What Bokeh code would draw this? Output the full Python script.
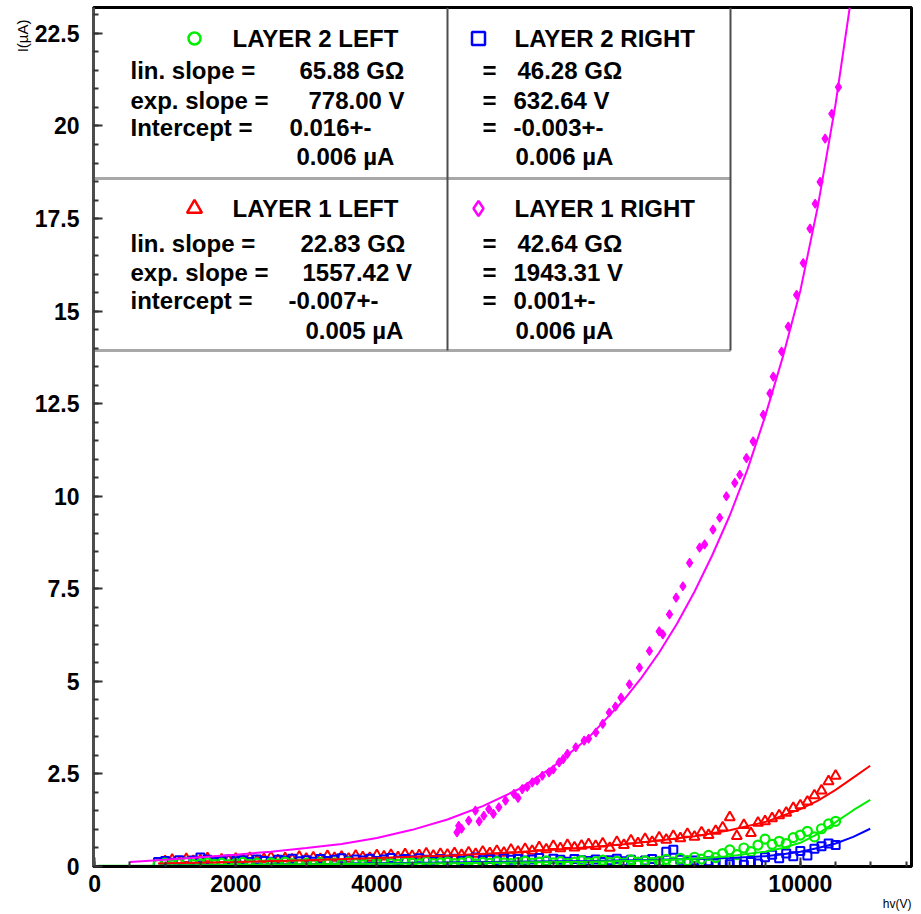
from bokeh.plotting import figure
from bokeh.models import FixedTicker, Label, PrintfTickFormatter, Range1d, Title
from bokeh.embed import file_html
from bokeh.resources import INLINE

# ---- measured leakage currents (uA) versus applied high voltage (V) ----

# LAYER 2 LEFT (green circles), 900 V .. 10500 V in 100 V steps
hv_l2l = list(range(900, 10600, 100))
cur_l2l = [0.06, 0.09, 0.04, 0.08, 0.11, 0.05, 0.07, 0.10, 0.06, 0.09, 0.05,
           0.08, 0.11, 0.06, 0.09, 0.04, 0.10, 0.07, 0.12, 0.08, 0.06,
           0.09, 0.05, 0.11, 0.07, 0.10, 0.06, 0.12, 0.08, 0.05, 0.10,
           0.07, 0.11, 0.08, 0.06, 0.12, 0.09, 0.07, 0.13, 0.08, 0.10,
           0.12, 0.08, 0.10, 0.14, 0.07, 0.11, 0.09, 0.13, 0.10, 0.08,
           0.11, 0.14, 0.09, 0.12, 0.15, 0.10, 0.13, 0.08, 0.12, 0.16,
           0.10, 0.13, 0.17, 0.11, 0.14, 0.09, 0.18, 0.12, 0.15, 0.11,
           0.14, 0.19, 0.12, 0.22, 0.16, 0.25, 0.20, 0.30, 0.24, 0.35,
           0.45, 0.32, 0.50, 0.40, 0.58, 0.74, 0.60, 0.68, 0.62, 0.78,
           0.85, 0.95, 0.80, 1.02, 1.15, 1.22]

# LAYER 2 RIGHT (blue squares), 900 V .. 10500 V in 100 V steps
hv_l2r = list(range(900, 10600, 100))
cur_l2r = [0.12, 0.15, 0.10, 0.17, 0.13, 0.16, 0.24, 0.18, 0.12, 0.15, 0.19,
           0.14, 0.17, 0.12, 0.19, 0.15, 0.13, 0.18, 0.16, 0.21, 0.14,
           0.17, 0.13, 0.20, 0.15, 0.18, 0.22, 0.14, 0.19, 0.16, 0.21,
           0.15, 0.19, 0.23, 0.16, 0.20, 0.17, 0.22, 0.18, 0.14, 0.20,
           0.18, 0.21, 0.15, 0.19, 0.24, 0.17, 0.20, 0.16, 0.22, 0.18,
           0.20, 0.16, 0.19, 0.23, 0.15, 0.21, 0.18, 0.13, 0.20, 0.17,
           0.15, 0.19, 0.12, 0.17, 0.21, 0.14, 0.18, 0.11, 0.16, 0.20,
           0.14, 0.40, 0.45, 0.18, 0.12, 0.16, 0.10, 0.14, 0.08, 0.12,
           0.06, 0.10, 0.05, 0.12, 0.08, 0.25, 0.32, 0.22, 0.35, 0.28,
           0.42, 0.30, 0.48, 0.55, 0.62, 0.58]

# LAYER 1 LEFT (red triangles), 1000 V .. 10500 V in 100 V steps
hv_l1l = list(range(1000, 10600, 100))
cur_l1l = [0.14, 0.18, 0.12, 0.20, 0.15, 0.17, 0.22, 0.13, 0.19, 0.16, 0.21,
           0.18, 0.23, 0.15, 0.20, 0.25, 0.17, 0.22, 0.19, 0.26, 0.21,
           0.24, 0.20, 0.28, 0.23, 0.26, 0.21, 0.29, 0.25, 0.23, 0.30,
           0.27, 0.31, 0.25, 0.33, 0.28, 0.30, 0.35, 0.29, 0.34, 0.32,
           0.36, 0.31, 0.38, 0.34, 0.40, 0.36, 0.42, 0.37, 0.45, 0.40,
           0.47, 0.42, 0.52, 0.46, 0.55, 0.49, 0.58, 0.51, 0.56, 0.60,
           0.55, 0.62, 0.50, 0.66, 0.58, 0.70, 0.63, 0.74, 0.66, 0.78,
           0.72, 0.82, 0.76, 0.88, 0.80, 0.92, 0.85, 0.96, 1.05, 1.33,
           0.82, 1.12, 0.90, 1.18, 1.22, 1.30, 1.38, 1.45, 1.58, 1.65,
           1.75, 1.92, 2.05, 2.30, 2.45]

# LAYER 1 RIGHT (magenta diamonds)
hv_l1r = [5135, 5159, 5200, 5301, 5396, 5450, 5515, 5586, 5650, 5728, 5823,
          5942, 6000, 6060, 6130, 6202, 6270, 6344, 6439, 6500, 6582, 6640,
          6700, 6818, 6937, 7000, 7103, 7200, 7293, 7380, 7459, 7578, 7720,
          7862, 8000, 8051, 8146, 8240, 8336, 8431, 8573, 8644, 8762, 8857,
          8952, 9071, 9142, 9236, 9331, 9474, 9569, 9616, 9734, 9829, 9947,
          10040, 10137, 10210, 10280, 10351, 10445, 10540]
cur_l1r = [0.92, 1.10, 1.02, 1.24, 1.51, 1.22, 1.37, 1.55, 1.42, 1.60, 1.78,
           1.96, 1.85, 2.09, 2.15, 2.27, 2.32, 2.45, 2.54, 2.62, 2.81, 2.90,
           3.04, 3.22, 3.40, 3.45, 3.62, 3.85, 4.16, 4.32, 4.56, 4.92, 5.37,
           5.82, 6.35, 6.27, 6.81, 7.26, 7.57, 8.20, 8.61, 8.70, 9.10, 9.42,
           10.00, 10.36, 10.58, 11.03, 11.48, 12.20, 12.78, 13.23, 13.91, 14.58, 15.44,
           16.30, 17.23, 17.90, 18.49, 19.66, 20.33, 21.05]

# ---- fitted curves (linear + exponential), sampled ----
fit_hv_l2l = [50, 1000, 3000, 5000, 7000, 8000, 8500, 9000, 9500, 9750, 10000,
              10250, 10500, 10750, 10990]
fit_l2l = [0.02, 0.03, 0.06, 0.09, 0.13, 0.17, 0.21, 0.28, 0.40, 0.50, 0.64,
           0.88, 1.20, 1.52, 1.80]

fit_hv_l2r = [900, 3000, 5000, 7000, 8000, 9000, 9500, 9750, 10000, 10250,
              10500, 10750, 10990]
fit_l2r = [0.02, 0.06, 0.11, 0.15, 0.18, 0.23, 0.28, 0.33, 0.40, 0.50, 0.62,
           0.80, 1.02]

fit_hv_l1l = [900, 2000, 3000, 4000, 5000, 6000, 6500, 7000, 7500, 8000, 8500,
              9000, 9500, 10000, 10250, 10500, 10750, 10990]
fit_l1l = [0.08, 0.12, 0.17, 0.23, 0.30, 0.39, 0.45, 0.52, 0.60, 0.70, 0.82,
           0.98, 1.20, 1.55, 1.78, 2.07, 2.40, 2.72]

fit_hv_l1r = [500, 1000, 1500, 2000, 2500, 3000, 3500, 4000, 4500, 5000, 5500,
              6000, 6500, 7000, 7500, 7750, 8000, 8250, 8500, 8750, 9000, 9250,
              9500, 9750, 10000, 10250, 10500, 10700]
fit_l1r = [0.12, 0.18, 0.25, 0.32, 0.40, 0.50, 0.61, 0.77, 0.99, 1.27, 1.63,
           2.08, 2.70, 3.48, 4.50, 5.10, 5.78, 6.55, 7.42, 8.40, 9.48, 10.72,
           12.15, 13.75, 15.55, 17.85, 20.60, 23.20]

x_ticks = [0, 2000, 4000, 6000, 8000, 10000]
y_ticks = [0, 2.5, 5, 7.5, 10, 12.5, 15, 17.5, 20, 22.5]

GREEN, BLUE, RED, MAGENTA = "#00ee00", "#0000ff", "#ff0000", "#ff00ff"
FONT = "Liberation Sans"

X0, X1 = -15, 11575
Y0, Y1 = 0, 23.2
p = figure(width=921, height=914, output_backend="svg", toolbar_location=None,
           x_range=Range1d(X0, X1), y_range=Range1d(Y0, Y1),
           min_border_left=93, min_border_right=10, min_border_top=7,
           min_border_bottom=48, background_fill_color="white",
           border_fill_color="white")
p.grid.visible = False
p.outline_line_color = "black"
p.outline_line_width = 3

FW, FH = 818.0, 859.0  # frame size in pixels


def px_x(px):
    # horizontal pixel inside the page -> voltage
    return X0 + (px - 93) / FW * (X1 - X0)


def px_y(py):
    # vertical pixel inside the page -> current
    return Y1 - (py - 7) / FH * (Y1 - Y0)


for ax in (p.xaxis, p.yaxis):
    ax.major_tick_in = 9
    ax.major_tick_out = 0
    ax.minor_tick_in = 5
    ax.minor_tick_out = 0
    ax.major_label_text_font = FONT
    ax.major_label_text_font_style = "bold"
    ax.major_label_text_font_size = "23px"
    ax.major_label_text_color = "black"
    ax.major_tick_line_color = "#333333"
    ax.minor_tick_line_color = "#333333"
    ax.major_tick_line_width = 2
    ax.minor_tick_line_width = 2

p.xaxis.ticker = FixedTicker(ticks=x_ticks, minor_ticks=list(range(0, 11600, 500)))
p.yaxis.ticker = FixedTicker(ticks=y_ticks, minor_ticks=[i * 0.5 for i in range(47)])
p.yaxis.formatter = PrintfTickFormatter(format="%g")
p.xaxis.formatter = PrintfTickFormatter(format="%d")
p.xaxis.axis_line_color = "black"
p.xaxis.axis_line_width = 3
p.yaxis.axis_line_color = "#4d4d4d"
p.yaxis.axis_line_width = 3
p.xaxis.major_label_standoff = 8
p.yaxis.major_label_standoff = 14

# axis titles at the far ends of the axes
p.add_layout(Title(text="I(\u00b5A)", align="right", text_font=FONT,
                   text_font_size="15px", text_font_style="normal",
                   text_color="black", standoff=2, offset=12), "left")
p.add_layout(Title(text="hv(V)", align="right", text_font=FONT,
                   text_font_size="12px", text_font_style="normal",
                   text_color="black", standoff=0), "below")

# statistics box frame lines
BOX_R = px_x(730)
BOX_MID = px_x(447)
ROW_SPLIT = px_y(178)
BOX_BOTTOM = px_y(350)
p.segment(x0=[X0, X0], y0=[ROW_SPLIT, BOX_BOTTOM], x1=[BOX_R, BOX_R],
          y1=[ROW_SPLIT, BOX_BOTTOM], line_color="#a8a8a8", line_width=3)
p.segment(x0=[BOX_MID, BOX_R], y0=[BOX_BOTTOM, BOX_BOTTOM], x1=[BOX_MID, BOX_R],
          y1=[Y1, Y1], line_color="#4d4d4d", line_width=2)

# data markers
p.scatter(hv_l1r, cur_l1r, marker="diamond", size=9, fill_color=MAGENTA,
          line_color=MAGENTA, line_width=1.2)
p.scatter(hv_l1l, cur_l1l, marker="triangle", size=10, fill_color=None,
          line_color=RED, line_width=2)
p.scatter(hv_l2r, cur_l2r, marker="square", size=8, fill_color=None,
          line_color=BLUE, line_width=2)
p.scatter(hv_l2l, cur_l2l, marker="circle", size=9, fill_color=None,
          line_color=GREEN, line_width=2.2)

# fitted curves
p.line(fit_hv_l1r, fit_l1r, line_color=MAGENTA, line_width=2)
p.line(fit_hv_l1l, fit_l1l, line_color=RED, line_width=2)
p.line(fit_hv_l2r, fit_l2r, line_color=BLUE, line_width=2)
p.line(fit_hv_l2l, fit_l2l, line_color=GREEN, line_width=2)

# legend symbols
p.scatter([px_x(194)], [px_y(38)], marker="circle", size=12, fill_color=None,
          line_color=GREEN, line_width=2.5)
p.scatter([px_x(478)], [px_y(38)], marker="square", size=13, fill_color=None,
          line_color=BLUE, line_width=2.5)
p.scatter([px_x(194)], [px_y(208)], marker="triangle", size=15, fill_color=None,
          line_color=RED, line_width=2.5)
p.scatter([px_x(478)], [px_y(208)], marker="diamond", size=15, fill_color=None,
          line_color=MAGENTA, line_width=2.5)


def txt(px, py, s, size="24px"):
    p.add_layout(Label(x=px_x(px), y=px_y(py), text=s, text_font=FONT,
                       text_font_style="bold", text_font_size=size,
                       text_color="black", text_align="left",
                       text_baseline="middle"))


# LAYER 2 LEFT
txt(232, 38, "LAYER 2 LEFT")
txt(130, 70, "lin. slope =")
txt(299, 70, "65.88 G\u03a9")
txt(130, 100, "exp. slope =")
txt(308, 100, "778.00 V")
txt(130, 127, "Intercept =")
txt(289, 127, "0.016+-")
txt(296, 156, "0.006 \u00b5A")

# LAYER 2 RIGHT
txt(514, 38, "LAYER 2 RIGHT")
for py, val, vx in [(70, "46.28 G\u03a9", 517), (100, "632.64 V", 513),
                    (127, "-0.003+-", 513)]:
    txt(482, py, "=")
    txt(vx, py, val)
txt(515, 156, "0.006 \u00b5A")

# LAYER 1 LEFT
txt(232, 208, "LAYER 1 LEFT")
txt(130, 243, "lin. slope =")
txt(300, 243, "22.83 G\u03a9")
txt(130, 272, "exp. slope =")
txt(302, 272, "1557.42 V")
txt(130, 300, "intercept =")
txt(288, 300, "-0.007+-")
txt(305, 330, "0.005 \u00b5A")

# LAYER 1 RIGHT
txt(514, 208, "LAYER 1 RIGHT")
for py, val, vx in [(243, "42.64 G\u03a9", 517), (272, "1943.31 V", 513),
                    (300, "0.001+-", 513)]:
    txt(482, py, "=")
    txt(vx, py, val)
txt(515, 330, "0.006 \u00b5A")

open("out.html", "w").write(file_html(p, INLINE))
